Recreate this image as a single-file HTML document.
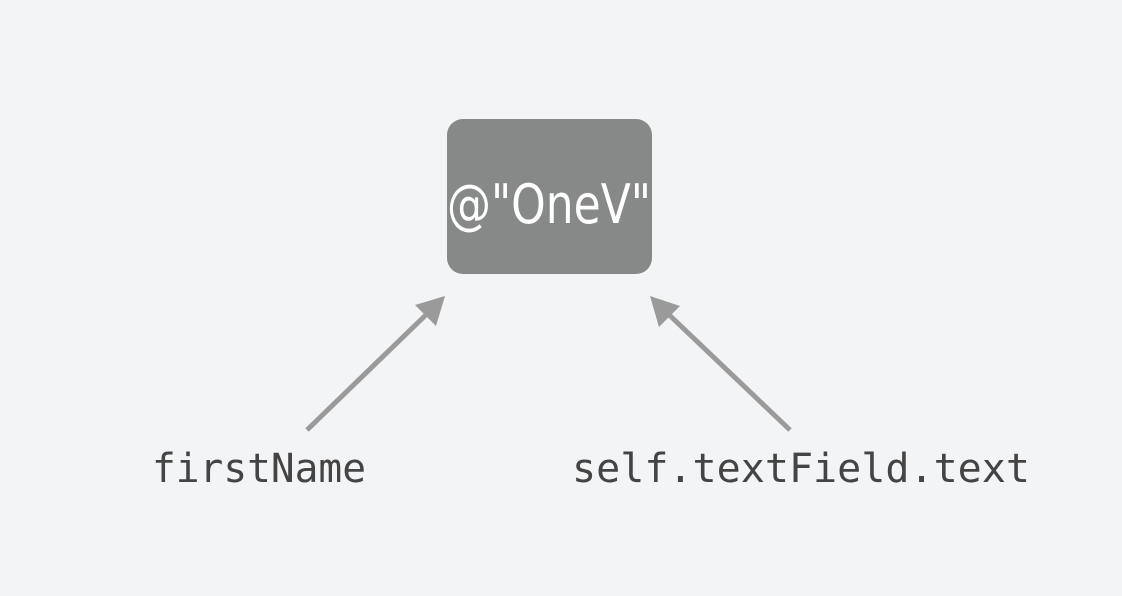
<!DOCTYPE html>
<html><head><style>
html,body{margin:0;padding:0;}
body{width:1122px;height:596px;background:#f3f4f6;position:relative;overflow:hidden;}
</style></head><body>
<svg width="1122" height="596" style="position:absolute;left:0;top:0">
<rect x="447" y="119" width="205" height="155" rx="16" fill="#868987"/>
<text x="549" y="223" text-anchor="middle" font-family="DejaVu Sans, Liberation Sans, sans-serif" font-size="54" fill="#fff" textLength="204" lengthAdjust="spacingAndGlyphs">@"OneV"</text>
<g stroke="#9a9a9a" stroke-width="5" fill="#9a9a9a">
<line x1="307" y1="430" x2="432" y2="309"/>
<polygon points="445,296 436,326 415,305" stroke="none"/>
<line x1="790" y1="430" x2="663" y2="309"/>
<polygon points="650,296 680,306 659,327" stroke="none"/>
</g>
<g font-family="DejaVu Sans Mono, Liberation Mono, monospace" font-size="40" fill="#444">
<text x="152" y="482" textLength="214" lengthAdjust="spacingAndGlyphs">firstName</text>
<text x="572" y="482" textLength="458" lengthAdjust="spacingAndGlyphs">self.textField.text</text>
</g>
</svg>
</body></html>
